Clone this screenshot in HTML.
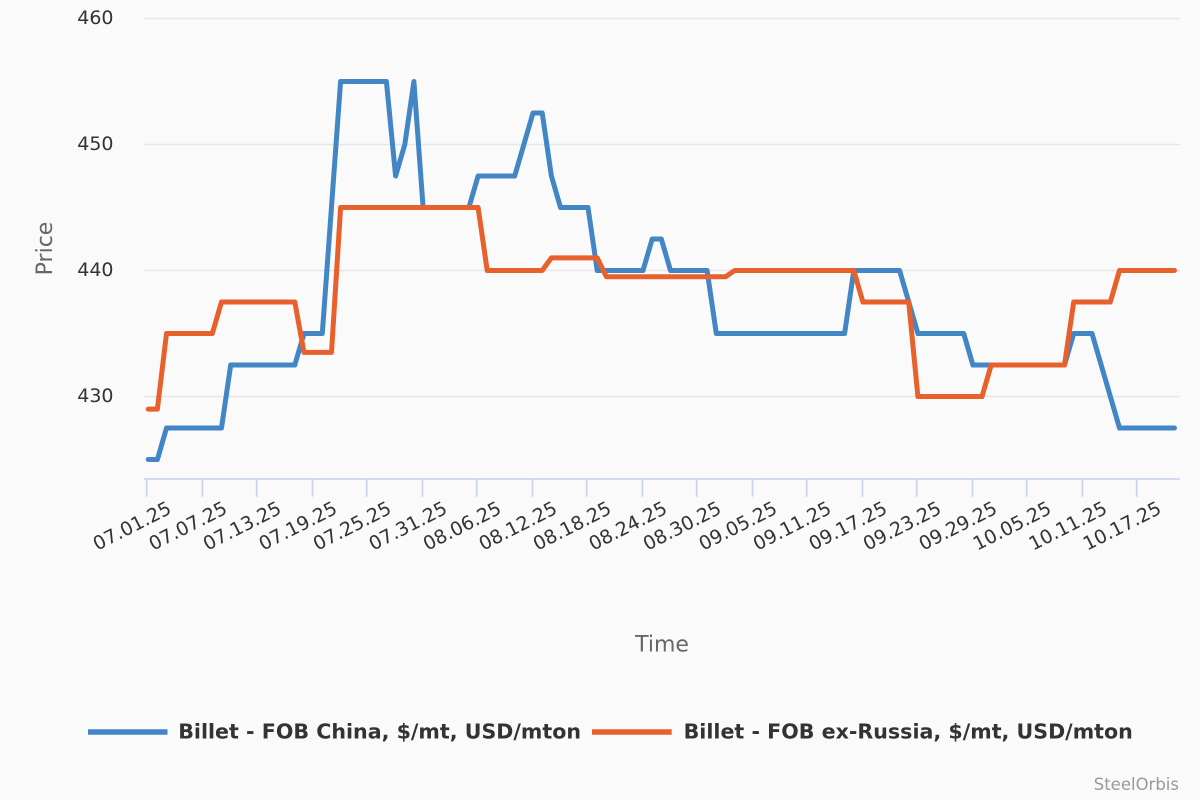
<!DOCTYPE html>
<html>
<head>
<meta charset="utf-8">
<style>
html,body{margin:0;padding:0;background:#fafafa;}
svg{display:block;}
text{font-family:"DejaVu Sans","Liberation Sans",sans-serif;}
</style>
</head>
<body>
<svg width="1200" height="800" viewBox="0 0 1200 800" xmlns="http://www.w3.org/2000/svg">
<rect x="0" y="0" width="1200" height="800" fill="#fafafa"/>
<!-- grid -->
<g stroke="#e6e6e6" stroke-width="1.6">
<line x1="144" y1="18.5" x2="1180" y2="18.5"/>
<line x1="144" y1="144.5" x2="1180" y2="144.5"/>
<line x1="144" y1="270.5" x2="1180" y2="270.5"/>
<line x1="144" y1="396.5" x2="1180" y2="396.5"/>
</g>
<!-- y labels -->
<g font-size="19" fill="#333" text-anchor="end">
<text x="113.5" y="24">460</text>
<text x="113.5" y="150">450</text>
<text x="113.5" y="276">440</text>
<text x="113.5" y="402">430</text>
</g>
<text transform="translate(52,248.5) rotate(-90)" font-size="22" fill="#666" text-anchor="middle">Price</text>
<!-- x axis -->
<line x1="144" y1="479" x2="1180" y2="479" stroke="#ccd6eb" stroke-width="1.8"/>
<g stroke="#ccd6eb" stroke-width="1.8">
<line x1="146.7" y1="479" x2="146.7" y2="496.7"/>
<line x1="202.5" y1="479" x2="202.5" y2="496.7"/>
<line x1="256.7" y1="479" x2="256.7" y2="496.7"/>
<line x1="312.5" y1="479" x2="312.5" y2="496.7"/>
<line x1="366.7" y1="479" x2="366.7" y2="496.7"/>
<line x1="422.5" y1="479" x2="422.5" y2="496.7"/>
<line x1="476.7" y1="479" x2="476.7" y2="496.7"/>
<line x1="532.5" y1="479" x2="532.5" y2="496.7"/>
<line x1="586.7" y1="479" x2="586.7" y2="496.7"/>
<line x1="642.5" y1="479" x2="642.5" y2="496.7"/>
<line x1="696.7" y1="479" x2="696.7" y2="496.7"/>
<line x1="752.5" y1="479" x2="752.5" y2="496.7"/>
<line x1="806.7" y1="479" x2="806.7" y2="496.7"/>
<line x1="862.5" y1="479" x2="862.5" y2="496.7"/>
<line x1="916.7" y1="479" x2="916.7" y2="496.7"/>
<line x1="972.5" y1="479" x2="972.5" y2="496.7"/>
<line x1="1026.7" y1="479" x2="1026.7" y2="496.7"/>
<line x1="1082.5" y1="479" x2="1082.5" y2="496.7"/>
<line x1="1136.7" y1="479" x2="1136.7" y2="496.7"/>
</g>
<g font-size="19" fill="#333" text-anchor="end">
<text transform="translate(172.7,512.5) rotate(-27)">07.01.25</text>
<text transform="translate(228.5,512.5) rotate(-27)">07.07.25</text>
<text transform="translate(282.7,512.5) rotate(-27)">07.13.25</text>
<text transform="translate(338.5,512.5) rotate(-27)">07.19.25</text>
<text transform="translate(392.7,512.5) rotate(-27)">07.25.25</text>
<text transform="translate(448.5,512.5) rotate(-27)">07.31.25</text>
<text transform="translate(502.7,512.5) rotate(-27)">08.06.25</text>
<text transform="translate(558.5,512.5) rotate(-27)">08.12.25</text>
<text transform="translate(612.7,512.5) rotate(-27)">08.18.25</text>
<text transform="translate(668.5,512.5) rotate(-27)">08.24.25</text>
<text transform="translate(722.7,512.5) rotate(-27)">08.30.25</text>
<text transform="translate(778.5,512.5) rotate(-27)">09.05.25</text>
<text transform="translate(832.7,512.5) rotate(-27)">09.11.25</text>
<text transform="translate(888.5,512.5) rotate(-27)">09.17.25</text>
<text transform="translate(942.7,512.5) rotate(-27)">09.23.25</text>
<text transform="translate(998.5,512.5) rotate(-27)">09.29.25</text>
<text transform="translate(1052.7,512.5) rotate(-27)">10.05.25</text>
<text transform="translate(1108.5,512.5) rotate(-27)">10.11.25</text>
<text transform="translate(1162.7,512.5) rotate(-27)">10.17.25</text>
</g>
<text x="662" y="651.5" font-size="22" fill="#666" text-anchor="middle">Time</text>
<!-- series -->
<path fill="none" stroke="#4286c6" stroke-width="5" stroke-linejoin="round" stroke-linecap="round"
d="M148.2,459.5 L157.4,459.5 L166.5,428 L221.5,428 L230.7,365 L294.8,365 L304,333.5 L322.3,333.5 L340.6,81.5 L386.4,81.5 L395.6,176 L404.8,144.5 L413.9,81.5 L423.1,207.5 L468.9,207.5 L478.1,176 L514.7,176 L533,113 L542.2,113 L551.4,176 L560.5,207.5 L588,207.5 L597.2,270.5 L643,270.5 L652.2,239 L661.3,239 L670.5,270.5 L707.1,270.5 L716.3,333.5 L844.6,333.5 L853.8,270.5 L899.6,270.5 L917.9,333.5 L963.7,333.5 L972.9,365 L1064.5,365 L1073.7,333.5 L1092,333.5 L1119.5,428 L1174.5,428"/>
<path fill="none" stroke="#e8602b" stroke-width="5" stroke-linejoin="round" stroke-linecap="round"
d="M148.2,409.1 L157.4,409.1 L166.5,333.5 L212.3,333.5 L221.5,302 L294.8,302 L304,352.4 L331.5,352.4 L340.6,207.5 L478.1,207.5 L487.2,270.5 L542.2,270.5 L551.4,257.9 L597.2,257.9 L606.4,276.8 L725.5,276.8 L734.6,270.5 L853.8,270.5 L862.9,302 L908.7,302 L917.9,396.5 L982,396.5 L991.2,365 L1064.5,365 L1073.7,302 L1110.3,302 L1119.5,270.5 L1174.5,270.5"/>
<!-- legend -->
<line x1="88" y1="732" x2="167.5" y2="732" stroke="#4286c6" stroke-width="5.5"/>
<text x="178.2" y="738.3" font-size="20.6" font-weight="bold" fill="#333">Billet - FOB China, $/mt, USD/mton</text>
<line x1="592" y1="732" x2="671.7" y2="732" stroke="#e8602b" stroke-width="5.5"/>
<text x="683.6" y="738.3" font-size="20.6" font-weight="bold" fill="#333">Billet - FOB ex-Russia, $/mt, USD/mton</text>
<text x="1179" y="790" font-size="16.5" fill="#999" text-anchor="end">SteelOrbis</text>
</svg>
</body>
</html>
